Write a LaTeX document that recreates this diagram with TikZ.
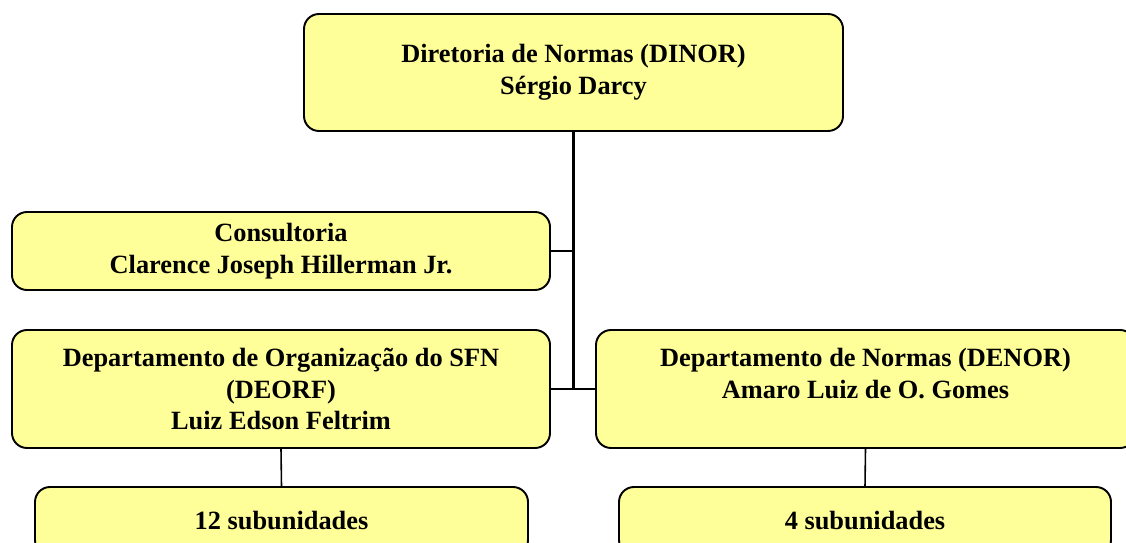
\documentclass[tikz,border=0pt]{standalone}
\usepackage{fontspec}
\setmainfont{Liberation Serif}
\usetikzlibrary{calc}
\definecolor{boxfill}{HTML}{FFFF99}
\tikzset{
	unitbox/.style={draw=black, line width=1.1pt, fill=boxfill, rounded corners=0.3cm,
		align=center, inner sep=0pt, font=\bfseries\fontsize{15}{18}\selectfont},
	trunk/.style={line width=1.2pt},
	branch/.style={line width=0.9pt}
}

\begin{document}
\begin{tikzpicture}
			%%%%% START %%%%%
			\useasboundingbox (0, 0) rectangle (22.52, -10.86);
			
			\node[unitbox, minimum width=10.78cm, minimum height=2.34cm] (dinor) at (11.47, -1.45) {Diretoria de Normas (DINOR)\\Sérgio Darcy};
			
			\node[unitbox, minimum width=10.76cm, minimum height=1.56cm] (consult) at (5.62, -5.02) {Consultoria\\Clarence Joseph Hillerman Jr.};
			
			\node[unitbox, minimum width=10.76cm, minimum height=2.36cm] (deorf) at (5.62, -7.78) {Departamento de Organização do SFN\\(DEORF)\\Luiz Edson Feltrim};
			\node[unitbox, minimum width=10.78cm, minimum height=2.36cm] (denor) at (17.31, -7.78) {Departamento de Normas (DENOR)\\Amaro Luiz de O. Gomes\\~};
			
			\node[unitbox, minimum width=9.86cm, minimum height=1.36cm] (sub12) at (5.63, -10.42) {12 subunidades};
			\node[unitbox, minimum width=9.84cm, minimum height=1.36cm] (sub4) at (17.30, -10.42) {4 subunidades};
			
			\draw[trunk] (dinor.south) -- (dinor.south |- deorf.east);
			\draw[trunk] (consult.east) -- (consult.east -| dinor.south);
			\draw[trunk] (deorf.east) -- (denor.west);
			
			\draw[branch] (deorf.south) -- (sub12.north);
			\draw[branch] (denor.south) -- (sub4.north);
			%%%%% END %%%%%
\end{tikzpicture}
\end{document}
